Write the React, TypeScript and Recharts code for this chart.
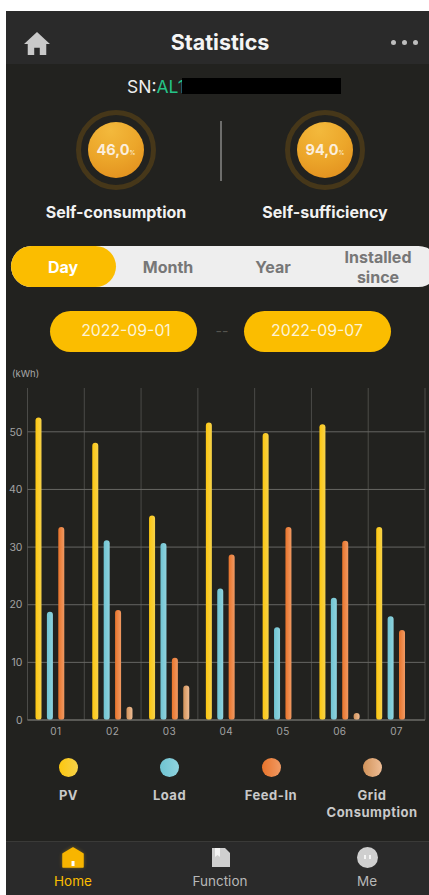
import React from "react";
import { BarChart, Bar, XAxis, YAxis, CartesianGrid, Legend } from "recharts";

const days = ["01", "02", "03", "04", "05", "06", "07"];
const pv = [52.5, 48.1, 35.5, 51.6, 49.8, 51.3, 33.5];
const load = [18.8, 31.2, 30.7, 22.8, 16.1, 21.2, 18.0];
const feedIn = [33.5, 19.1, 10.8, 28.7, 33.5, 31.1, 15.6];
const grid = [0, 2.3, 6.0, 0, 0, 1.2, 0];
const yTicks = [0, 10, 20, 30, 40, 50];

const seriesKeys = ["pv", "load", "feedIn", "grid"];
const seriesLabels = ["PV", "Load", "Feed-In", "Grid\nConsumption"];
const seriesFrom = ["#fdc70f", "#6fc4d2", "#e9742b", "#d2935a"];
const seriesTo = ["#f6d24a", "#8fd3de", "#f09a63", "#eebd95"];
const legendCentres = [68.5, 169.5, 271, 372];

const data = days.map((day, i) => ({ day, pv: pv[i], load: load[i], feedIn: feedIn[i], grid: grid[i] }));

const font = "Inter, 'Noto Sans', sans-serif";
const bg = "#22221f";
const bar = "#2a2a2a";
const yellow = "#fbbd00";

const abs = (left: number, top: number, width: number, height: number, extra: React.CSSProperties = {}): React.CSSProperties => ({
  position: "absolute", left, top, width, height, ...extra,
});

function Label({ cx, cy, w = 200, size, color, weight = 400, children, lh, spacing }: any) {
  const h = lh ? lh * 2 : size * 1.4;
  return (
    <div style={{
      position: "absolute", left: cx - w / 2, top: cy - h / 2, width: w, height: h, lineHeight: lh ? `${lh}px` : `${h}px`,
      textAlign: "center", fontSize: size, color, fontWeight: weight, whiteSpace: "pre-line", letterSpacing: spacing,
    }}>{children}</div>
  );
}

function Gauge({ cx, value, label }: { cx: number; value: string; label: string }) {
  return (
    <>
      <div style={abs(cx - 40, 110, 80, 80, { borderRadius: "50%", border: "5px solid #463719", boxSizing: "border-box" })} />
      <div style={abs(cx - 28, 122, 56, 56, { borderRadius: "50%", background: "radial-gradient(circle at 40% 15%, #f3b93c 0%, #eca62a 50%, #df8a1b 100%)" })} />
      <div style={{ position: "absolute", left: cx - 28, top: 140, width: 56, height: 20, lineHeight: "20px", textAlign: "center", color: "#fbeedd", fontWeight: 700, fontSize: 14.5 }}>
        {value}<span style={{ fontSize: 6, fontWeight: 400 }}>%</span>
      </div>
      <Label cx={cx} cy={212} size={16} color="#f2f2f2" weight={700}>{label}</Label>
    </>
  );
}

function ChartLegend() {
  return (
    <div style={{ position: "relative", width: 429, height: 90, fontFamily: font }}>
      {seriesKeys.map((k, i) => (
        <React.Fragment key={k}>
          <div style={abs(legendCentres[i] - 9.5, 7.5, 19, 19, { borderRadius: "50%", background: `linear-gradient(90deg, ${seriesFrom[i]}, ${seriesTo[i]})` })} />
          <div style={{
            position: "absolute", left: legendCentres[i] - 60, top: 37, width: 120, textAlign: "center",
            fontSize: 13, lineHeight: "17px", fontWeight: 700, color: "#c9c9c9", whiteSpace: "pre-line", letterSpacing: 0.5,
          }}>{seriesLabels[i]}</div>
        </React.Fragment>
      ))}
    </div>
  );
}

export default function App() {
  return (
    <div style={{ position: "absolute", left: 0, top: 0, width: 429, height: 895, background: "#fff", overflow: "hidden", fontFamily: font }}>
      <div style={abs(6, 11, 423, 884, { background: bg })} />
      <div style={abs(6, 11, 423, 53, { background: bar })} />

      <svg style={abs(23, 31, 28, 25)} viewBox="0 0 30 27">
        <path d="M15 1 L29 14 L25 14 L25 26 L18 26 L18 18 L12 18 L12 26 L5 26 L5 14 L1 14 Z" fill="#c9c9c9" />
      </svg>
      <Label cx={220} cy={42} size={21.5} color="#f4f4f4" weight={700}>Statistics</Label>
      {[393, 404, 415].map((x) => (
        <div key={x} style={abs(x - 2.5, 40, 5, 5, { borderRadius: "50%", background: "#bdbdbd" })} />
      ))}

      <div style={{ position: "absolute", left: 127, top: 75, height: 24, lineHeight: "24px", fontSize: 17.5, whiteSpace: "nowrap", color: "#eee" }}>
        SN:<span style={{ color: "#25c488" }}>AL1</span>
      </div>
      <div style={abs(182, 78, 159, 16, { background: "#000" })} />

      <Gauge cx={116} value="46,0" label="Self-consumption" />
      <Gauge cx={325} value="94,0" label="Self-sufficiency" />
      <div style={abs(220, 121, 1.5, 60, { background: "#6e6e6c" })} />

      <div style={abs(11, 246, 428, 41, { background: "#eeeeee", borderRadius: 21 })} />
      <div style={abs(11, 246, 105, 41, { background: yellow, borderRadius: 21 })} />
      <Label cx={63} cy={267} size={16} color="#fff" weight={700}>Day</Label>
      <Label cx={168} cy={267} size={16} color="#777" weight={700}>Month</Label>
      <Label cx={273} cy={267} size={16} color="#777" weight={700}>Year</Label>
      <Label cx={378} cy={267} size={16} lh={20} color="#777" weight={700}>{"Installed\nsince"}</Label>

      <div style={abs(50, 311, 147, 41, { background: yellow, borderRadius: 21 })} />
      <div style={abs(244, 311, 147, 41, { background: yellow, borderRadius: 21 })} />
      <Label cx={126} cy={331} size={15.8} color="#fdf3d4">2022-09-01</Label>
      <Label cx={317} cy={331} size={15.8} color="#fdf3d4">2022-09-07</Label>
      <Label cx={222} cy={331} size={14} color="#55554f">--</Label>
      <div style={{ position: "absolute", left: 12, top: 367, fontSize: 9.5, lineHeight: "13px", color: "#a8a8a8" }}>(kWh)</div>

      <div style={{ position: "absolute", left: 0, top: 360 }}>
        <BarChart width={429} height={480} data={data} barSize={6} barGap={5.4} margin={{ top: 28, right: 4, bottom: 0, left: 0 }}>
          <defs>
            {seriesKeys.map((k, i) => (
              <linearGradient key={k} id={`grad-${k}`} x1="0" y1="0" x2="1" y2="0">
                <stop offset="0%" stopColor={seriesFrom[i]} />
                <stop offset="100%" stopColor={seriesTo[i]} />
              </linearGradient>
            ))}
          </defs>
          <CartesianGrid
            stroke="#4b4b48"
            strokeWidth={1}
            horizontal={false}
            verticalCoordinatesGenerator={({ offset }: any) =>
              [0, 1, 2, 3, 4, 5, 6, 7].map((i) => offset.left + (i * offset.width) / 7)
            }
          />
          <CartesianGrid
            stroke="#666663"
            strokeWidth={1}
            vertical={false}
            horizontalValues={yTicks}
          />
          <XAxis
            dataKey="day"
            height={30}
            axisLine={{ stroke: "#6e6e6b" }}
            tickLine={false}
            tickMargin={2}
            tick={{ fill: "#a3a3a3", fontSize: 10, fontFamily: font, letterSpacing: 0.4 }}
          />
          <YAxis
            width={27.5}
            domain={[0, 57.6]}
            ticks={yTicks}
            axisLine={false}
            tickLine={false}
            tickSize={0}
            tickMargin={5}
            tick={{ fill: "#a3a3a3", fontSize: 10.5, fontFamily: font }}
          />
          <Legend verticalAlign="bottom" height={90} wrapperStyle={{ left: 0, width: 429 }} content={() => <ChartLegend />} />
          {seriesKeys.map((k, i) => (
            <Bar key={k} dataKey={k} name={seriesLabels[i]} fill={`url(#grad-${k})`} radius={[3, 3, 3, 3]} isAnimationActive={false} />
          ))}
        </BarChart>
      </div>

      <div style={abs(6, 841, 423, 54, { background: bar, borderTop: "1px solid #3a3a38", boxSizing: "border-box" })} />
      <svg style={abs(54, 842, 38, 32)} viewBox="0 0 38 32" overflow="visible">
        <defs>
          <filter id="glow" x="-50%" y="-50%" width="200%" height="200%"><feGaussianBlur stdDeviation="2.2" /></filter>
        </defs>
        <path d="M19 6 L29 12 L29 25 L9 25 L9 12 Z" fill="#fbbd00" opacity="0.55" filter="url(#glow)" />
        <path d="M19 6 L29 12 L29 25 L9 25 L9 12 Z" fill="#f8b500" stroke="#f8b500" strokeWidth="1.5" strokeLinejoin="round" />
        <rect x="17.5" y="19" width="3" height="5" fill="#fff" />
      </svg>
      <Label cx={73} cy={881} size={13.5} color={yellow}>Home</Label>
      <svg style={abs(211, 848, 20, 20)} viewBox="0 0 20 20">
        <path d="M1 0 H14 L19 5 V19 H1 Z" fill="#cfcfcf" />
        <path d="M4 0 H9 V9 L6.5 7 L4 9 Z" fill="#f4f4f4" />
      </svg>
      <Label cx={220} cy={881} size={13.5} color="#b8b8b8">Function</Label>
      <div style={abs(356.5, 847, 21, 21, { borderRadius: "50%", background: "#cfcfcf" })} />
      <div style={abs(363.5, 855, 2, 4, { background: "#f5f5f5" })} />
      <div style={abs(368.5, 855, 2, 4, { background: "#f5f5f5" })} />
      <Label cx={367} cy={881} size={13.5} color="#b8b8b8">Me</Label>
    </div>
  );
}
